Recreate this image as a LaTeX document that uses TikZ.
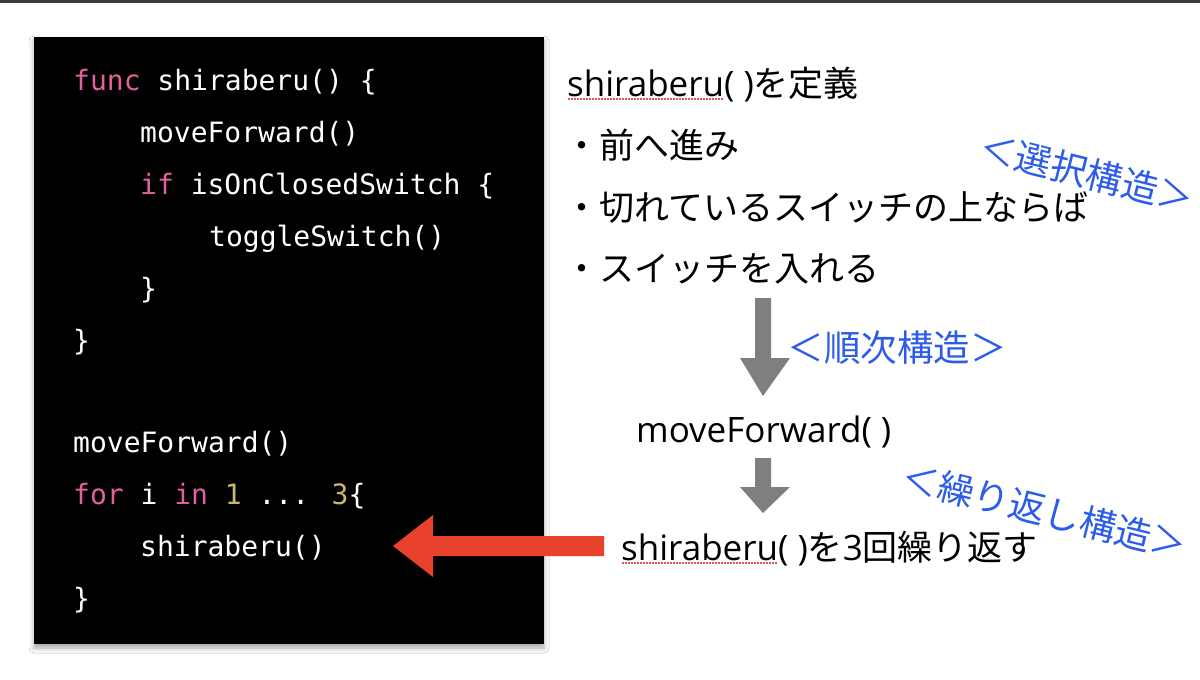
\documentclass[tikz,border=0pt]{standalone}
\usepackage{fontspec}
\usetikzlibrary{shadows.blur}
\newfontfamily\jpfnt{Noto Sans CJK JP}
\newfontfamily\latfnt{Open Sans}
\newfontfamily\codefnt{DejaVu Sans Mono}
\definecolor{kwpink}{HTML}{E2609E}
\definecolor{numyel}{HTML}{CBB76A}
\definecolor{lblue}{HTML}{2C5CEB}
\definecolor{arrgray}{HTML}{7F7F7F}
\definecolor{arrred}{HTML}{E8412C}
\definecolor{ulred}{HTML}{E25858}
\definecolor{topbar}{HTML}{3C3C3C}
\newsavebox\ulbox
\newcommand\redul[1]{\sbox\ulbox{#1}\makebox[0pt][l]{\raisebox{-3.5pt}{\color{ulred}\leaders\hbox to 3pt{\hss\rule{2pt}{1.2pt}\hss}\hskip\wd\ulbox}}\usebox\ulbox}
\tikzset{
  codeline/.style={anchor=base west, inner sep=0, text=white, font=\codefnt\fontsize{28}{28}\selectfont},
  jptext/.style={anchor=base west, inner sep=0, text=black, font=\jpfnt\fontsize{35}{35}\selectfont},
  bluelabel/.style={inner sep=0, text=lblue, font=\jpfnt\fontsize{36.5}{36.5}\selectfont},
  grayarrow/.style={fill=arrgray},
  redarrow/.style={fill=arrred},
}
\begin{document}
\begin{tikzpicture}[x=1pt,y=-1pt]
\useasboundingbox (0,0) rectangle (1200,680);
\fill[white] (0,0) rectangle (1200,680);
\fill[topbar] (0,0) rectangle (1200,3);
% code panel
\node[fill=black, minimum width=510, minimum height=607, inner sep=0,
  blur shadow={shadow xshift=0pt, shadow yshift=-4pt, shadow blur radius=5pt, shadow opacity=35}]
  (panel) at (289,340.5) {};
\node[codeline] (c1) at (73,90) {\textcolor{kwpink}{func} shiraberu() \{};
\node[codeline] (c2) at (140,142) {moveForward()};
\node[codeline] (c3) at (140,194) {\textcolor{kwpink}{if} isOnClosedSwitch \{};
\node[codeline] (c4) at (209,246) {toggleSwitch()};
\node[codeline] (c5) at (140,298) {\}};
\node[codeline] (c6) at (73,350) {\}};
\node[codeline] (c7) at (73,452) {moveForward()};
\node[codeline] (c8) at (73,504) {\textcolor{kwpink}{for} i \textcolor{kwpink}{in} \textcolor{numyel}{1} ... \textcolor{numyel}{3}\{};
\node[codeline] (c9) at (140,556) {shiraberu()};
\node[codeline] (c10) at (73,608) {\}};
% right text
\node[jptext] (t1) at (567,96) {{\latfnt\redul{shiraberu}( )}を定義};
\node[jptext] (t2) at (564,158) {・前へ進み};
\node[jptext] (t3) at (564,220) {・切れているスイッチの上ならば};
\node[jptext] (t4) at (564,281) {・スイッチを入れる};
\node[jptext] (mf) at (636,442) {\latfnt moveForward( )};
\node[jptext] (rep) at (621,560) {{\latfnt\redul{shiraberu}( )}を{\latfnt 3}回繰り返す};
% blue labels
\node[bluelabel] (lsel) at (1087,173) [rotate=-14] {＜選択構造＞};
\node[bluelabel] (lseq) at (897,348) {＜順次構造＞};
\node[bluelabel] (lrep) at (1045,511) [rotate=-14] {＜繰り返し構造＞};
% gray arrows
\coordinate (g1) at (763,298);
\coordinate (g2) at (763,458);
\fill[grayarrow] (g1) ++(-8,0) -- ++(0,60) -- ++(-15,0) -- ++(23,38) -- ++(27,-38) -- ++(-19,0) -- ++(0,-60) -- cycle;
\fill[grayarrow] (g2) ++(-8,0) -- ++(0,29) -- ++(-15,0) -- ++(23,26) -- ++(27,-26) -- ++(-19,0) -- ++(0,-29) -- cycle;
% red arrow
\coordinate (r0) at (604,546);
\fill[redarrow] (r0) ++(0,-10) -- ++(-171,0) -- ++(0,-21) -- ++(-40,31) -- ++(40,31) -- ++(0,-21) -- ++(171,0) -- cycle;
\end{tikzpicture}
\end{document}
